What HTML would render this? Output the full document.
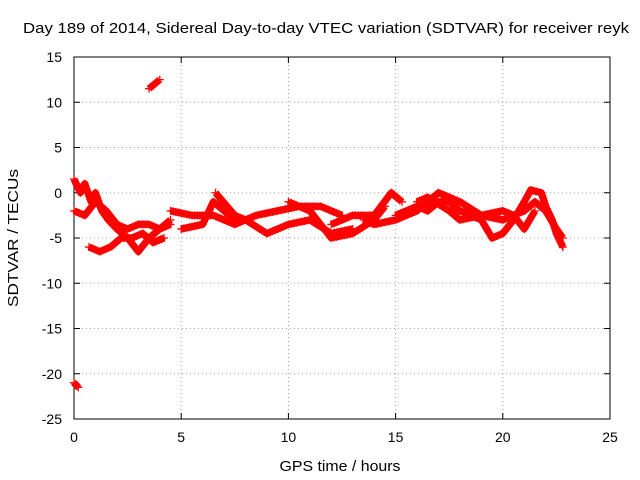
<!DOCTYPE html>
<html><head><meta charset="utf-8"><style>
body{margin:0;background:#fff}
svg{display:block;font-family:"Liberation Sans",sans-serif;font-size:14px}
</style></head><body>
<svg id="c" width="640" height="480"></svg>
<script>
const xTicks=[0,5,10,15,20,25];
const yTicks=[15,10,5,0,-5,-10,-15,-20,-25];
const trackX=[
[0,0.3,0.5,0.8,1.0,1.3,1.6,2.0,2.5,3.0,3.5,4.0,4.5],
[0,0.5,1,1.5,2,2.5,3,3.5,4,4.5],
[0.7,1.2,1.7,2.2,2.7,3.2,3.7,4.2],
[3.5,4.0],
[0,0.2],
[4.5,5.5,6.5,7.5,8.5,9.5,10.5,11.5,12.5],
[5,6,6.5,7,7.5,8,9,10,11,12,13],
[6.6,7.5,8],
[10,11,12,13,14,14.5],
[12,13,14,14.8,15.3],
[13.5,14,15,16,17,18,19,20,21,21.5,22,22.5,22.8],
[15,16,16.5,17,17.5,18,19,19.5,20,20.5,21,21.3,21.8,22,22.3,22.5,22.8],
[16,16.5,17.5,18,19,20,20.5,21,21.5]
];
const trackY=[
[1.5,0,1,-1,0,-2,-3,-4,-5,-6.5,-5,-4,-3.5],
[-2,-2.5,-1,-2,-3.5,-4,-3.5,-3.5,-4,-3],
[-6,-6.5,-6,-5,-5,-4.5,-5.5,-5],
[11.5,12.5],
[-21,-21.5],
[-2,-2.5,-2.5,-3.5,-2.5,-2,-1.5,-1.5,-2.5],
[-4,-3.5,-1,-2,-3,-3,-4.5,-3.5,-3,-4.5,-4],
[0,-2.5,-3],
[-1,-2,-5,-4.5,-3,-1.5],
[-3.5,-2.5,-2.5,0,-1],
[-3,-3.5,-3,-2,0,-1,-2.5,-3,-2,-1,-2,-4,-5],
[-2.5,-1.5,-2,-1,-1,-2,-3,-5,-4.5,-3,-1,0.3,0,-1.5,-3,-4.5,-6],
[-1,-0.5,-2,-3,-2.5,-2,-2.5,-4,-2]
];
const L=74,R=610,T=57,B=419;
const sx=v=>L+(v-0)/(25-0)*(R-L);
const sy=v=>B-(v+25)/(40)*(B-T);
const svg=document.getElementById('c');
const NS='http://www.w3.org/2000/svg';
function mk(t,a,txt){const e=document.createElementNS(NS,t);for(const k in a)e.setAttribute(k,a[k]);if(txt!==undefined)e.textContent=txt;svg.appendChild(e);return e;}
xTicks.forEach(v=>{
 const x=sx(v);
 if(v>0&&v<25){const g=mk('line',{x1:x,y1:T,x2:x,y2:B,stroke:'#a0a0a0','stroke-dasharray':'1,3'});
 
 }
 mk('line',{x1:x,y1:B,x2:x,y2:B-6,stroke:'#000'});
 mk('line',{x1:x,y1:T,x2:x,y2:T+6,stroke:'#000'});
 const t=mk('text',{x:x,y:B+23,'text-anchor':'middle'},v);
 
 
});
yTicks.forEach(v=>{
 const y=sy(v);
 if(v>-25&&v<15){const g=mk('line',{x1:L,y1:y,x2:R,y2:y,stroke:'#a0a0a0','stroke-dasharray':'1,3'});
 
 }
 mk('line',{x1:L,y1:y,x2:L+6,y2:y,stroke:'#000'});
 mk('line',{x1:R,y1:y,x2:R-6,y2:y,stroke:'#000'});
 const t=mk('text',{x:62,y:y+5,'text-anchor':'end'},v);
 
 
});
const frame=mk('rect',{x:L,y:T,width:R-L,height:B-T,fill:'none',stroke:'#000'});


trackX.forEach((xs,i)=>{
 const ys=trackY[i];
 const g=mk('g',{stroke:'#f00','stroke-width':1.3,fill:'none'});
 
 
 const pts=xs.map((x,j)=>sx(x)+','+sy(ys[j])).join(' ');
 const pl=document.createElementNS(NS,'polyline');
 pl.setAttribute('points',pts);pl.setAttribute('stroke-width',7);pl.setAttribute('stroke-linejoin','round');g.appendChild(pl);
 for(let j=0;j<xs.length;j++){
  const x0=sx(xs[j]),y0=sy(ys[j]);
  const x1=j+1<xs.length?sx(xs[j+1]):x0,y1=j+1<xs.length?sy(ys[j+1]):y0;
  const n=Math.max(1,Math.ceil(Math.hypot(x1-x0,y1-y0)/3));
  for(let k=0;k<n;k++){
   const px=x0+(x1-x0)*k/n,py=y0+(y1-y0)*k/n;
   const p=document.createElementNS(NS,'path');
   p.setAttribute('d',`M${px-4},${py}H${px+4}M${px},${py-4}V${py+4}`);
   g.appendChild(p);
  }
 }
});
</script>
<script>
(function(){
const svg=document.getElementById('c');const NS='http://www.w3.org/2000/svg';
function t(x,y,s,n,len,extra){const e=document.createElementNS(NS,'text');e.setAttribute('x',x);e.setAttribute('y',y);e.setAttribute('text-anchor','middle');e.setAttribute('font-size','15');e.setAttribute('textLength',len);e.setAttribute('lengthAdjust','spacingAndGlyphs');if(extra)e.setAttribute('transform',extra);e.textContent=s;svg.appendChild(e);}
t(326,33,'Day 189 of 2014, Sidereal Day-to-day VTEC variation (SDTVAR) for receiver reyk','chart-title',606);
t(340,471,'GPS time / hours','x-axis-title',121);
t(0,0,'SDTVAR / TECUs','y-axis-title',138,'translate(18,238) rotate(-90)');
})();
</script>
</body></html>
